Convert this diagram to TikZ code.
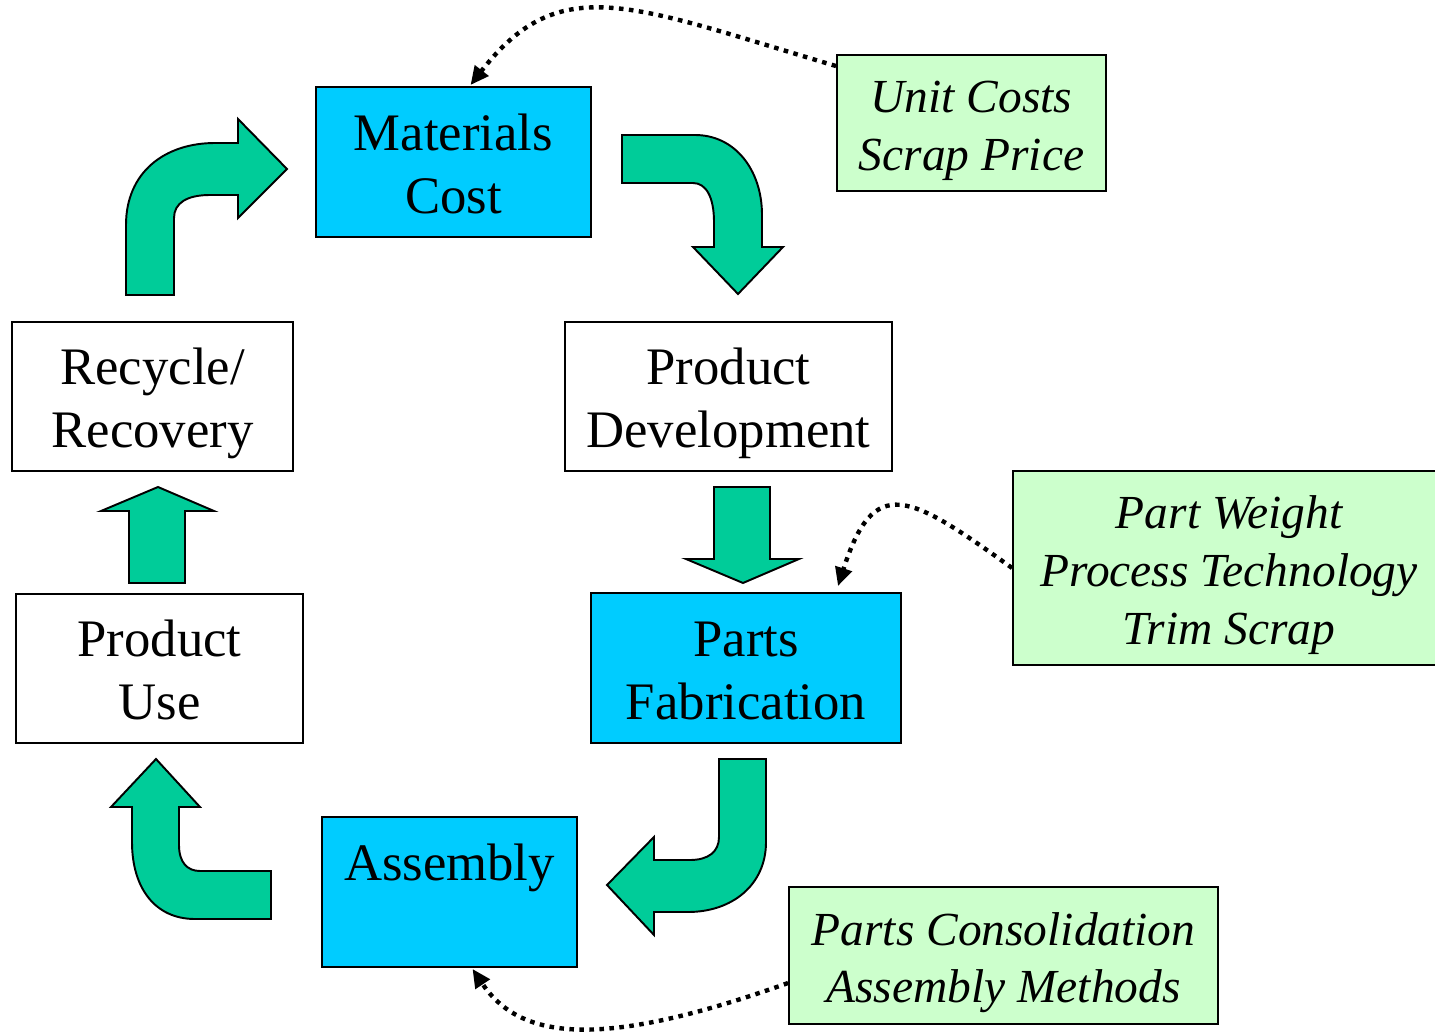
\documentclass[tikz,border=0pt]{standalone}
\usepackage{fontspec}
\setmainfont{Liberation Serif}
\usetikzlibrary{arrows.meta,calc}

\definecolor{boxcyan}{HTML}{00CCFF}
\definecolor{arrowgreen}{HTML}{00CC99}
\definecolor{notegreen}{HTML}{CCFFCC}

% uniform line struts so every text line sits the same way in its box
\newcommand\ml{\rule[-6.8pt]{0pt}{36pt}}
\newcommand\nl{\rule[-5.9pt]{0pt}{32.9pt}}

\tikzset{
  stage/.style={draw=black, line width=1.1pt, fill=white, inner sep=0pt,
    align=center, font=\fontsize{30}{36}\selectfont},
  stagehi/.style={stage, fill=boxcyan},
  note/.style={draw=black, line width=1.1pt, fill=notegreen, inner sep=0pt,
    align=center, font=\fontsize{27}{32.9}\selectfont\itshape},
  flow/.style={fill=arrowgreen, draw=black, line width=1.1pt, line join=miter},
  link/.style={line width=2.5pt, dash pattern=on 2.6pt off 3.1pt,
    -{Triangle[length=10.5pt,width=9.5pt]}}
}

\begin{document}
\begin{tikzpicture}[x=0.02cm, y=-0.02cm]
\useasboundingbox (0,0) rectangle (1435,1033);

% process stages
\node[stagehi, minimum width=5.5cm,  minimum height=3cm]    (mc) at (453.5,162)   {\ml Materials\\\ml Cost};
\node[stage,   minimum width=6.54cm, minimum height=2.98cm] (pd) at (728.5,396.5) {\ml Product\\\ml Development};
\node[stagehi, minimum width=6.2cm,  minimum height=3cm]    (pf) at (746,668)     {\ml Parts\\\ml Fabrication};
\node[stagehi, minimum width=5.1cm,  minimum height=3cm]    (as) at (449.5,892)   {\ml Assembly\\\ml};
\node[stage,   minimum width=5.74cm, minimum height=2.98cm] (pu) at (159.5,668.5) {\ml Product\\\ml Use};
\node[stage,   minimum width=5.62cm, minimum height=2.98cm] (rr) at (152.5,396.5) {\ml Recycle/\\\ml Recovery};

% cost drivers
\node[note, minimum width=5.38cm, minimum height=2.72cm] (uc) at (971.5,123)  {\nl Unit Costs\\\nl Scrap Price};
\node[note, minimum width=8.64cm, minimum height=3.88cm] (pw) at (1229,568)   {\nl Part Weight\\\nl Process Technology\\\nl Trim Scrap};
\node[note, minimum width=8.58cm, minimum height=2.74cm] (pc) at (1003.5,955.5) {\nl Parts Consolidation\\\nl Assembly Methods};

% block arrows of the cycle
\draw[flow] (126,295) -- (126,225) .. controls (126,172) and (165,143) .. (215,143)
  -- (238,143) -- (238,119) -- (287,169) -- (238,218) -- (238,195) -- (210,195)
  .. controls (187,195) and (174,203) .. (174,218) -- (174,295) -- cycle;
\draw[flow] (622,135) -- (695,135) .. controls (735,135) and (762,170) .. (762,215)
  -- (762,247) -- (783,247) -- (738,294) -- (693,247) -- (714,247) -- (714,222)
  .. controls (714,197) and (706,183) .. (693,183) -- (622,183) -- cycle;
\draw[flow] (714,487) -- (770,487) -- (770,559) -- (799,559) -- (743,583)
  -- (686,559) -- (714,559) -- cycle;
\draw[flow] (719,759) -- (766,759) -- (766,842) .. controls (766,885) and (732,912) .. (688,912)
  -- (654,912) -- (654,935) -- (607,885) -- (654,837) -- (654,860) -- (690,860)
  .. controls (708,860) and (719,852) .. (719,837) -- cycle;
\draw[flow] (271,871) -- (271,919) -- (195,919) .. controls (155,919) and (132,888) .. (132,842)
  -- (132,807) -- (111,807) -- (156,759) -- (200,807) -- (179,807) -- (179,845)
  .. controls (179,862) and (187,871) .. (200,871) -- cycle;
\draw[flow] (129,583) -- (185,583) -- (185,511) -- (214,511) -- (158,487)
  -- (101,511) -- (129,511) -- cycle;

% influence links
\draw[link] ($(uc.north west)+(0,12)$) .. controls (630,5) and (560,-30) .. ($(mc.north)+(17,-1)$);
\draw[link] (pw.west) .. controls (908,493) and (874,474) .. ($(pf.north)+(92,-6)$);
\draw[link] ($(pc.west)+(0,27.5)$) .. controls (600,1050) and (520,1040) .. ($(as.south)+(23,1)$);
\end{tikzpicture}
\end{document}
